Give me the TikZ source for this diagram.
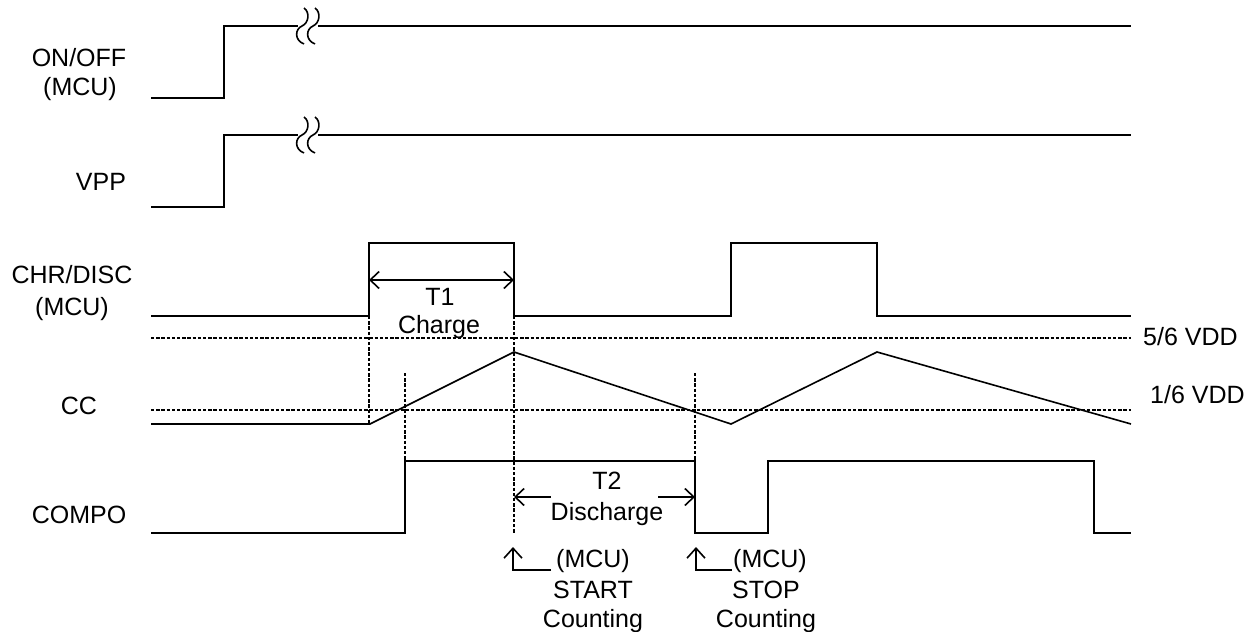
\documentclass[tikz,border=0pt]{standalone}
\usepackage{fontspec}
\setmainfont{Liberation Sans}
\usetikzlibrary{arrows.meta}
\begin{document}
\begin{tikzpicture}[x=1pt,y=-1pt,
  sig/.style={line width=1.6pt, line join=miter},
  refline/.style={line width=2.3pt, dash pattern=on 3.4pt off 1.8pt},
  lbl/.style={font=\fontsize{25}{30}\selectfont, inner sep=0pt, anchor=base},
  lblL/.style={lbl, anchor=base west},
  barb/.tip={Straight Barb[length=9pt,width=17pt]},
  dimarrow/.style={line width=1.6pt, barb-barb},
  halfdim/.style={line width=1.6pt, barb-},
  markarrow/.style={line width=1.6pt, -{Straight Barb[length=10pt,width=18pt]}},
  brk/.pic={\draw[line width=1.6pt] (2,-18) .. controls (8,-14) and (7,-3) .. (0,0) .. controls (-7,3) and (-8,14) .. (2,18);}
]
\useasboundingbox (0,0) rectangle (1256,632);

% labels
\node[lbl] (onoff) at (79,66) {ON/OFF};
\node[lbl] (onoffmcu) at (80,95) {(MCU)};
\node[lbl] (vpp) at (101,190) {VPP};
\node[lbl] (chr) at (72,283) {CHR/DISC};
\node[lbl] (chrmcu) at (72,315) {(MCU)};
\node[lbl] (cc) at (79,414) {CC};
\node[lbl] (compo) at (79,523) {COMPO};
\node[lblL] (v56) at (1143,345) {5/6 VDD};
\node[lblL] (v16) at (1150,403) {1/6 VDD};

% ON/OFF
\draw[sig] (151,98) -- (224,98) -- (224,26) -- (298,26);
\draw[sig] (318,26) -- (1131,26);
\pic at (302,26) {brk};
\pic at (313,26) {brk};

% VPP
\draw[sig] (151,207) -- (224,207) -- (224,135) -- (298,135);
\draw[sig] (318,135) -- (1131,135);
\pic at (302,135) {brk};
\pic at (313,135) {brk};

% CHR/DISC
\draw[sig] (151,316) -| (369,243) -| (514,316) -| (731,243) -| (877,316) -- (1131,316);

% reference levels
\draw[refline] (151,338) -- (1131,338);
\draw[refline] (151,410) -- (1131,410);

% CC
\draw[sig] (151,424) -- (370,424) -- (514,352) -- (731,424) -- (877,352) -- (1131,424);

% COMPO
\draw[sig] (151,533) -| (405,461) -| (695,533) -| (768,461) -| (1094,533) -- (1131,533);

% dotted verticals
\draw[refline] (369,316) -- (369,424);
\draw[refline] (514,316) -- (514,534);
\draw[refline] (405,373) -- (405,461);
\draw[refline] (695,373) -- (695,461);

% T1
\coordinate (t1a) at (369,280);
\coordinate (t1b) at (514,280);
\draw[dimarrow] (t1a) -- (t1b);
\node[lbl] (t1) at (440,305) {T1};
\node[lbl] (charge) at (439,333) {Charge};

% T2
\coordinate (t2a) at (514,497);
\coordinate (t2al) at (551,497);
\coordinate (t2b) at (695,497);
\coordinate (t2bl) at (658,497);
\draw[halfdim] (t2a) -- (t2al);
\draw[halfdim] (t2b) -- (t2bl);
\node[lbl] (t2) at (607,489) {T2};
\node[lbl] (disch) at (607,520) {Discharge};

% START marker
\coordinate (s0) at (551,570);
\coordinate (s1) at (513,570);
\coordinate (s2) at (513,547);
\draw[markarrow] (s0) -- (s1) -- (s2);
\node[lbl] (smcu) at (593,567) {(MCU)};
\node[lbl] (sstart) at (593,598) {START};
\node[lbl] (scount) at (593,627) {Counting};

% STOP marker
\coordinate (p0) at (732,570);
\coordinate (p1) at (696,570);
\coordinate (p2) at (696,547);
\draw[markarrow] (p0) -- (p1) -- (p2);
\node[lbl] (pmcu) at (770,567) {(MCU)};
\node[lbl] (pstop) at (766,598) {STOP};
\node[lbl] (pcount) at (766,627) {Counting};
\end{tikzpicture}
\end{document}
